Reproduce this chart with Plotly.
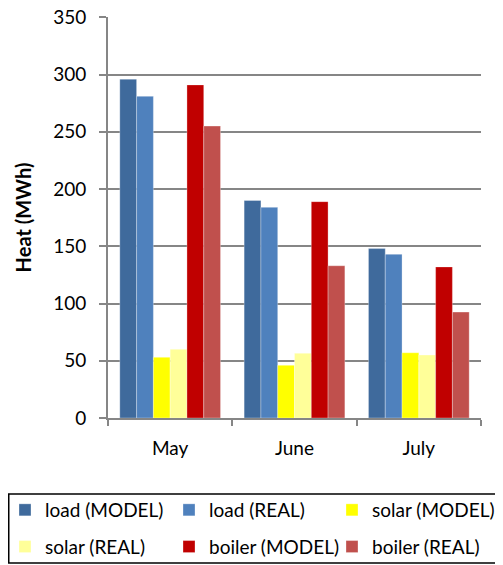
import plotly.graph_objects as go

months = ["May", "June", "July"]
series_names = ["load (MODEL)", "load (REAL)", "solar (MODEL)", "solar (REAL)", "boiler (MODEL)", "boiler (REAL)"]
load_model = [296, 190, 148]
load_real = [281, 184, 143]
solar_model = [53, 46, 57]
solar_real = [60, 56.5, 55]
boiler_model = [291, 189, 132]
boiler_real = [255, 133, 92.5]
colors = ["#3F6A9C", "#4F81BD", "#FFFF00", "#FFFF99", "#C00000", "#C0504D"]
y_ticks = [0, 50, 100, 150, 200, 250, 300, 350]

values = [load_model, load_real, solar_model, solar_real, boiler_model, boiler_real]

# page is offset by the browser's default 8px body margin
W, H = 495, 557
L, T, R, B = 100, 9, 22, 147
pw, ph = W - L - R, H - T - B

def px_x(x):
    return (x - L) / pw

def px_y(y):
    return (H - B - y) / ph

# legend column assignment (reading order across 3 columns, 2 rows)
legend_ids = ["legend", "legend2", "legend3", "legend", "legend2", "legend3"]

fig = go.Figure()
for i, (name, vals, col) in enumerate(zip(series_names, values, colors)):
    fig.add_trace(go.Bar(
        x=months, y=vals, name=name,
        marker=dict(color=col, line=dict(color="rgba(255,255,255,0.5)", width=0.6)),
        legend=legend_ids[i], legendgroup=name,
    ))

font_family = "Lato, 'Open Sans', sans-serif"
leg_common = dict(
    orientation="v", yanchor="top", xanchor="left",
    borderwidth=0, bgcolor="rgba(0,0,0,0)",
    font=dict(family=font_family, size=19, color="#000000"),
    tracegroupgap=9, traceorder="grouped",
)
leg_top = 483
fig.update_layout(
    width=W, height=H,
    margin=dict(l=L, r=R, t=T, b=B, autoexpand=False),
    paper_bgcolor="white", plot_bgcolor="white",
    barmode="group", bargap=0.19, bargroupgap=0,
    font=dict(family=font_family, size=19, color="#000000"),
    showlegend=True,
    legend=dict(x=px_x(-3), y=px_y(leg_top), **leg_common),
    legend2=dict(x=px_x(161), y=px_y(leg_top), **leg_common),
    legend3=dict(x=px_x(324), y=px_y(leg_top), **leg_common),
    xaxis=dict(
        showline=True, linecolor="#868686", linewidth=2,
        ticks="outside", tickson="boundaries", ticklen=6, tickcolor="#868686", tickwidth=2,
        showgrid=False, automargin=False,
        tickfont=dict(size=19), ticklabelstandoff=12,
    ),
    yaxis=dict(
        range=[0, 350.3], tickvals=y_ticks,
        showline=True, linecolor="#868686", linewidth=2,
        ticks="outside", ticklen=7, tickcolor="#868686", tickwidth=2,
        showgrid=True, gridcolor="#868686", gridwidth=2,
        zeroline=False, automargin=False, ticklabeloverflow="allow",
        tickfont=dict(size=19), ticklabelstandoff=9,
        title=dict(text="<b>Heat (MWh)</b>", font=dict(size=20), standoff=16),
    ),
    shapes=[dict(
        type="rect", xref="paper", yref="paper",
        x0=px_x(0.75), x1=px_x(W + 2), y0=px_y(486), y1=px_y(555),
        line=dict(color="#000000", width=1.5), fillcolor="rgba(0,0,0,0)", layer="above",
    )],
)

fig.write_html("out.html")
